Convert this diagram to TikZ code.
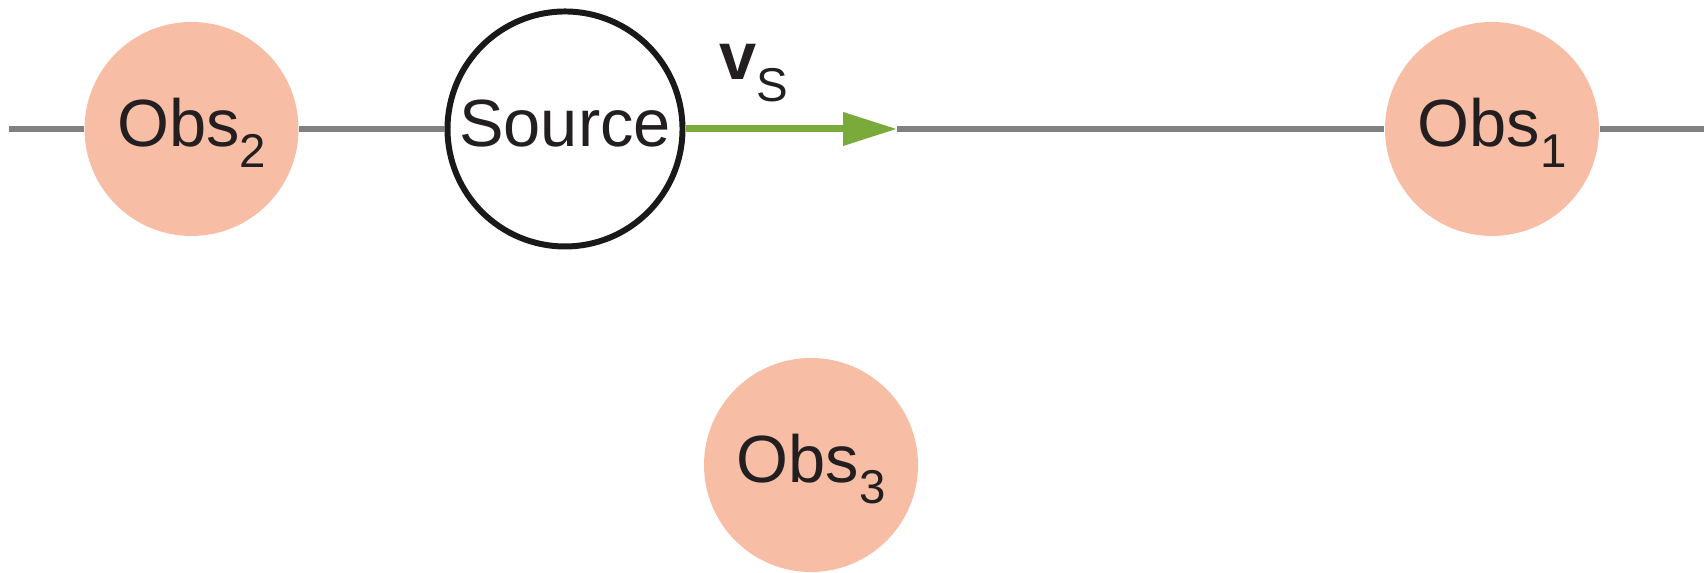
\documentclass[tikz,border=0pt]{standalone}
\usepackage{fontspec}
\setmainfont{Liberation Sans}
\usetikzlibrary{arrows.meta}
\definecolor{obsfill}{HTML}{F8BEA5}
\definecolor{arrowgreen}{HTML}{7AAA3A}
\definecolor{axisgray}{HTML}{808080}
\definecolor{txt}{HTML}{231F20}
\newcommand{\mysub}[1]{\raisebox{-0.21cm}{\fontsize{13.5}{15}\selectfont #1}}
\tikzset{
  obsnode/.style={circle, fill=obsfill, minimum size=2.14cm, inner sep=0pt,
    text=txt, font=\fontsize{19}{22}\selectfont, text height=0.55cm, text depth=0.2cm},
  srcnode/.style={circle, draw=black!90, line width=1.7pt, fill=white, minimum size=2.35cm, inner sep=0pt,
    text=txt, font=\fontsize{19}{22}\selectfont, text height=0.55cm, text depth=0.2cm},
  axisline/.style={draw=axisgray, line width=1.5pt},
  velarrow/.style={draw=arrowgreen, line width=2pt, -{Triangle[length=0.54cm,width=0.32cm]}},
}
\begin{document}
\begin{tikzpicture}
\useasboundingbox (0,0) rectangle (17.04,5.73);
\coordinate (lend) at (0.09,4.44);
\coordinate (rend) at (17.04,4.44);
\coordinate (tip) at (8.97,4.44);
\node[obsnode] (obs2) at (1.915,4.44) {Obs\mysub{2}};
\node[srcnode] (src) at (5.65,4.44) {Source};
\node[obsnode] (obs1) at (14.92,4.44) {Obs\mysub{1}};
\node[obsnode] (obs3) at (8.11,1.08) {Obs\mysub{3}};
\node[text=txt, anchor=base west, inner sep=0pt] (vs) at (7.19,4.93)
  {\fontsize{19}{22}\selectfont\textbf{v}\raisebox{-0.22cm}{\fontsize{13.5}{15}\selectfont S}};
\draw[axisline] (lend) -- (obs2);
\draw[axisline] (obs2) -- (src);
\draw[axisline] (tip) -- (obs1);
\draw[axisline] (obs1) -- (rend);
\draw[velarrow] (src) -- (tip);
\end{tikzpicture}
\end{document}
